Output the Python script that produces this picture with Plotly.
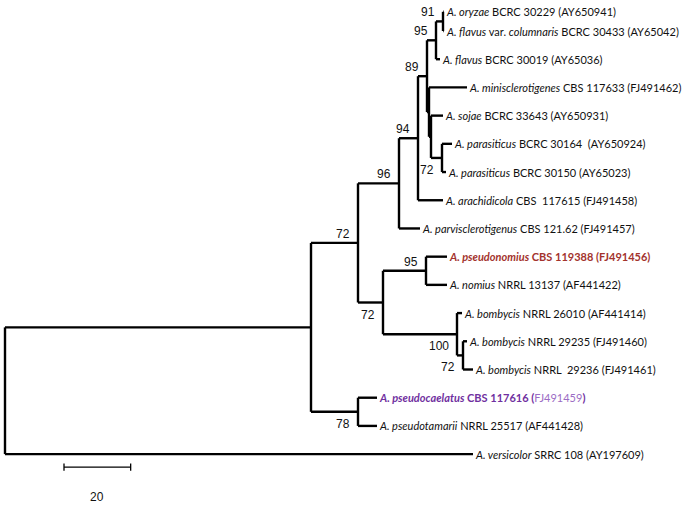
import plotly.graph_objects as go

# ---- tree data ----
names = ["root", "ingroup", "nA", "n96", "n94", "n89", "n95a", "n91", "oryzae", "flavcol",
         "flavus", "nC", "minis", "nD", "sojae", "n72p", "par164", "par150", "arach", "parvi",
         "nB", "n95b", "pseudonom", "nomius", "n100", "bomb26010", "n72b", "bomb29235",
         "bomb29236", "n78", "pseudocael", "pseudotam", "versicolor"]
parents = [None, "root", "ingroup", "nA", "n96", "n94", "n89", "n95a", "n91", "n91",
           "n95a", "n89", "nC", "nC", "nD", "nD", "n72p", "n72p", "n94", "n96",
           "nA", "nB", "n95b", "n95b", "nB", "n100", "n100", "n72b",
           "n72b", "ingroup", "n78", "n78", "root"]
branch_lengths = [0, 91.8, 14.1, 12.3, 5.7, 2.7, 2.7, 2.1, 0.2, 0.2,
                  1.2, 0.6, 11.4, 0.6, 3.6, 3.3, 3.0, 1.2, 7.5, 6.3,
                  7.5, 12.9, 6.3, 6.3, 22.2, 1.5, 1.8, 1.2,
                  3.0, 14.1, 5.7, 5.7, 140.4]
support_nodes = ["n91", "n95a", "n89", "n94", "n72p", "n96", "nA", "n95b", "nB", "n100", "n72b", "n78"]
support_values = [91, 95, 89, 94, 72, 96, 72, 95, 72, 100, 72, 78]
support_below = ["n72p", "nB", "n100", "n72b", "n78"]

leaf_labels = {
    "oryzae": "<i>A. oryzae</i> BCRC 30229 (AY650941)",
    "flavcol": "<i>A. flavus</i> var. <i>columnaris</i> BCRC 30433 (AY65042)",
    "flavus": "<i>A. flavus</i> BCRC 30019 (AY65036)",
    "minis": "<i>A. minisclerotigenes</i> CBS 117633 (FJ491462)",
    "sojae": "<i>A. sojae</i> BCRC 33643 (AY650931)",
    "par164": "<i>A. parasiticus</i> BCRC 30164\u00a0 (AY650924)",
    "par150": "<i>A. parasiticus</i> BCRC 30150 (AY65023)",
    "arach": "<i>A. arachidicola</i> CBS\u00a0 117615 (FJ491458)",
    "parvi": "<i>A. parvisclerotigenus</i> CBS 121.62 (FJ491457)",
    "pseudonom": "<span style='color:#a3332d'><b><i>A. pseudonomius</i> CBS 119388 (FJ491456)</b></span>",
    "nomius": "<i>A. nomius</i> NRRL 13137 (AF441422)",
    "bomb26010": "<i>A. bombycis</i> NRRL 26010 (AF441414)",
    "bomb29235": "<i>A. bombycis</i> NRRL 29235 (FJ491460)",
    "bomb29236": "<i>A. bombycis</i> NRRL\u00a0 29236 (FJ491461)",
    "pseudocael": "<span style='color:#7030a0'><b><i>A. pseudocaelatus</i> CBS 117616 (</b></span>"
                  "<span style='color:#9b6cc4'>FJ491459</span><span style='color:#7030a0'><b>)</b></span>",
    "pseudotam": "<i>A. pseudotamarii</i> NRRL 25517 (AF441428)",
    "versicolor": "<i>A. versicolor</i> SRRC 108 (AY197609)",
}
scale_bar_length = 20

# gap before each leaf (top pair drawn closer together)
leaf_gap_first_pair = 0.68

# ---- layout computation ----
children = {n: [] for n in names}
for n, p in zip(names, parents):
    if p is not None:
        children[p].append(n)
blen = dict(zip(names, branch_lengths))

xpos = {}
def set_x(n, base):
    xpos[n] = base + blen[n]
    for c in children[n]:
        set_x(c, xpos[n])
set_x("root", 0.0)

ypos = {}
leaf_counter = [None]
def set_y(n):
    if not children[n]:
        if leaf_counter[0] is None:
            leaf_counter[0] = 1 - leaf_gap_first_pair
        elif leaf_counter[0] < 1:
            leaf_counter[0] = 1
        else:
            leaf_counter[0] += 1
        ypos[n] = leaf_counter[0]
    else:
        for c in children[n]:
            set_y(c)
        ypos[n] = (ypos[children[n][0]] + ypos[children[n][-1]]) / 2
set_y("root")

lx, ly = [], []
for n, p in zip(names, parents):
    if p is not None:
        lx += [xpos[p], xpos[n], None]
        ly += [ypos[n], ypos[n], None]
    if children[n]:
        lx += [xpos[n], xpos[n], None]
        ly += [ypos[children[n][0]], ypos[children[n][-1]], None]

fig = go.Figure()
fig.add_trace(go.Scatter(x=lx, y=ly, mode="lines", line=dict(color="black", width=2.4),
                         hoverinfo="skip", showlegend=False))

label_font = dict(family="Lato, Liberation Sans, sans-serif", size=11, color="#111111")
for n, txt in leaf_labels.items():
    fig.add_annotation(x=xpos[n], y=ypos[n], text=txt, showarrow=False, xanchor="left",
                       yanchor="middle", xshift=0, font=label_font)

sup_font = dict(family="Liberation Sans, Arial, sans-serif", size=12, color="#111111")
for n, v in zip(support_nodes, support_values):
    below = n in support_below
    fig.add_annotation(x=xpos[n], y=ypos[n], text=str(v), showarrow=False, xanchor="right",
                       yanchor="middle", xshift=-6, yshift=(-12 if below else 9), font=sup_font)

# scale bar
sb_x0 = 17.7
sb_y = 16.46
sx = [sb_x0, sb_x0 + scale_bar_length, None, sb_x0, sb_x0, None,
      sb_x0 + scale_bar_length, sb_x0 + scale_bar_length]
sy = [sb_y, sb_y, None, sb_y - 0.13, sb_y + 0.13, None, sb_y - 0.13, sb_y + 0.13]
fig.add_trace(go.Scatter(x=sx, y=sy, mode="lines", line=dict(color="black", width=1.3),
                         hoverinfo="skip", showlegend=False))
fig.add_annotation(x=sb_x0 + scale_bar_length / 2, y=sb_y, text=str(scale_bar_length),
                   showarrow=False, yshift=-30, font=sup_font)

fig.update_layout(
    width=686, height=519, margin=dict(l=0, r=0, t=0, b=0),
    paper_bgcolor="white", plot_bgcolor="white",
    xaxis=dict(range=[-1.5, 204.3], visible=False, fixedrange=True),
    yaxis=dict(range=[18.3, -0.099], visible=False, fixedrange=True),
)
fig.write_html("out.html", config={"displayModeBar": False},
               post_script="document.body.style.margin='0px';document.body.style.overflow='hidden';")
